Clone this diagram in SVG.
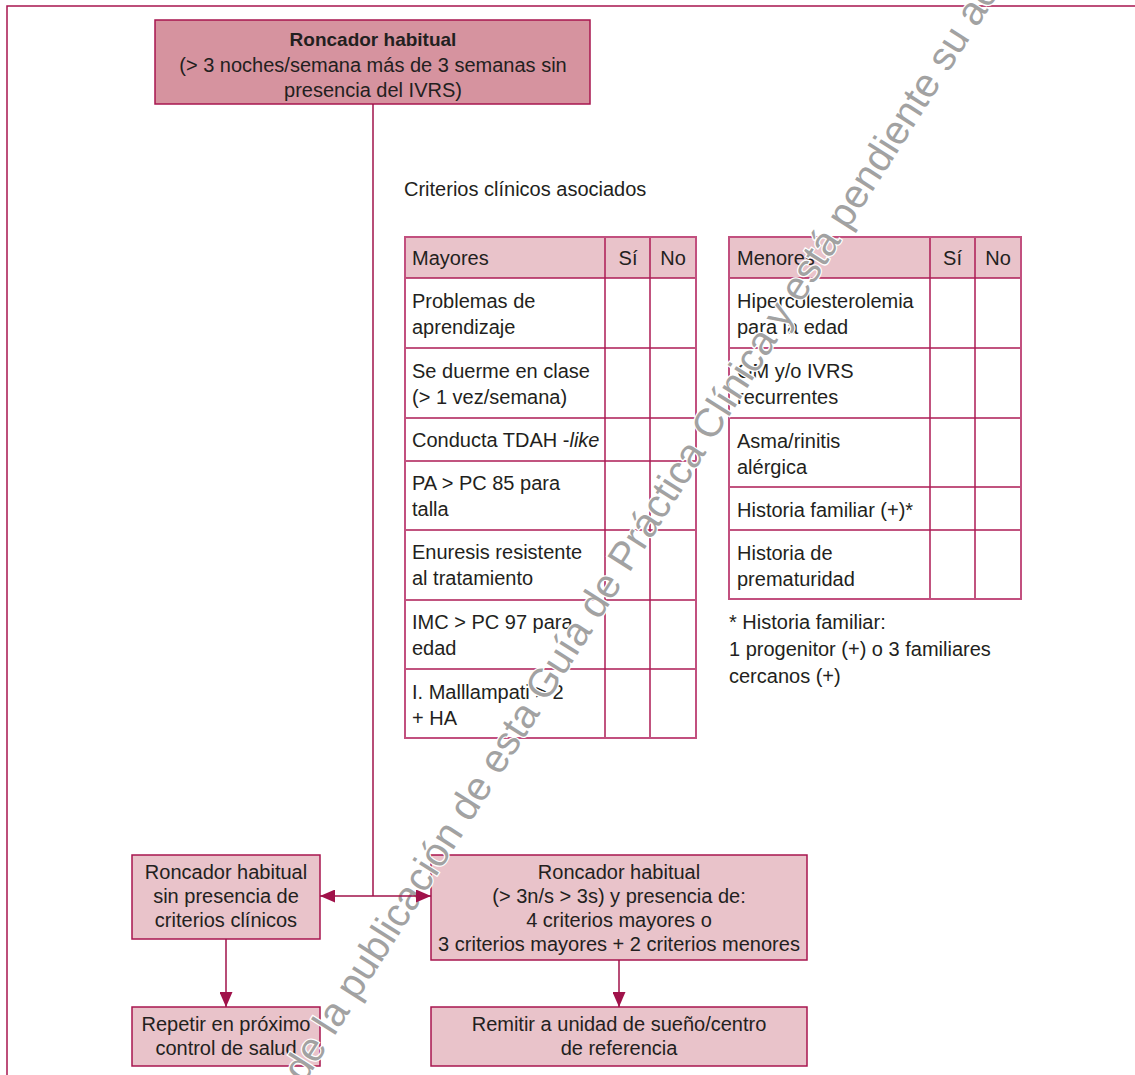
<svg xmlns="http://www.w3.org/2000/svg" width="1135" height="1075" viewBox="0 0 1135 1075">
<style>
text{font-family:"Liberation Sans",Arial,sans-serif;font-size:20px;fill:#231f20}
.c{text-anchor:middle}
.b{font-weight:bold;font-size:19px}
.box{fill:#e9c3ca;stroke:#a8164f;stroke-width:1.5}
.top{fill:#d6939f;stroke:#a8164f;stroke-width:1.5}
.hdr{fill:#e9c3ca;stroke:none}
.grid{stroke:#ad1c55;stroke-width:1.5;fill:none}
.outer{fill:none;stroke:#c2507f;stroke-width:2}
.con{stroke:#a0124a;stroke-width:1.5;fill:none}
.wm{font-size:40px;fill:#a2a2a2;stroke:#fff;stroke-width:2.5;paint-order:stroke}
</style>
<defs>
<marker id="ah" viewBox="0 0 15 13" refX="15" refY="6.5" markerWidth="15" markerHeight="13" markerUnits="userSpaceOnUse" orient="auto">
<path d="M0,0 L15,6.5 L0,13 z" fill="#a0124a"/>
</marker>
</defs>
<rect width="1135" height="1075" fill="#fff"/>
<rect x="7" y="6" width="1200" height="1200" fill="none" stroke="#a8164f" stroke-width="1.5"/>

<g id="n_top">
<rect class="top" x="155" y="20" width="435" height="84"/>
<text class="c b" x="373" y="46">Roncador habitual</text>
<text class="c" x="373" y="71.5">(&gt; 3 noches/semana más de 3 semanas sin</text>
<text class="c" x="373" y="97">presencia del IVRS)</text>
</g>

<g id="n_criterios_title">
<text x="404" y="196">Criterios clínicos asociados</text>
</g>

<g id="n_mayores">
<rect class="hdr" x="405" y="237" width="291" height="41"/>
<path class="grid" d="M405,278 H696 M405,348 H696 M405,418 H696 M405,461 H696 M405,530 H696 M405,600 H696 M405,669 H696 M605,237 V738 M650,237 V738"/>
<rect class="outer" x="405" y="237" width="291" height="501"/>
<text x="412" y="265">Mayores</text>
<text class="c" x="628" y="265">Sí</text>
<text class="c" x="673" y="265">No</text>
<text x="412" y="308">Problemas de</text>
<text x="412" y="334">aprendizaje</text>
<text x="412" y="378">Se duerme en clase</text>
<text x="412" y="404">(&gt; 1 vez/semana)</text>
<text x="412" y="447">Conducta TDAH -<tspan font-style="italic">like</tspan></text>
<text x="412" y="490">PA &gt; PC 85 para</text>
<text x="412" y="516">talla</text>
<text x="412" y="559">Enuresis resistente</text>
<text x="412" y="585">al tratamiento</text>
<text x="412" y="629">IMC &gt; PC 97 para</text>
<text x="412" y="655">edad</text>
<text x="412" y="699">I. Malllampati &gt; 2</text>
<text x="412" y="725">+ HA</text>
</g>

<g id="n_menores">
<rect class="hdr" x="729" y="237" width="292" height="41"/>
<path class="grid" d="M729,278 H1021 M729,348 H1021 M729,418 H1021 M729,487 H1021 M729,530 H1021 M930,237 V599 M975,237 V599"/>
<rect class="outer" x="729" y="237" width="292" height="362"/>
<text x="737" y="265">Menores</text>
<text class="c" x="952.5" y="265">Sí</text>
<text class="c" x="998" y="265">No</text>
<text x="737" y="308">Hipercolesterolemia</text>
<text x="737" y="334">para la edad</text>
<text x="737" y="378">OM y/o IVRS</text>
<text x="737" y="404">recurrentes</text>
<text x="737" y="448">Asma/rinitis</text>
<text x="737" y="474">alérgica</text>
<text x="737" y="517">Historia familiar (+)*</text>
<text x="737" y="560">Historia de</text>
<text x="737" y="586">prematuridad</text>
</g>

<g id="n_nota">
<text x="729" y="629">* Historia familiar:</text>
<text x="729" y="656">1 progenitor (+) o 3 familiares</text>
<text x="729" y="683">cercanos (+)</text>
</g>

<g id="n_sin">
<rect class="box" x="132" y="855" width="188" height="84"/>
<text class="c" x="226" y="879">Roncador habitual</text>
<text class="c" x="226" y="903">sin presencia de</text>
<text class="c" x="226" y="927">criterios clínicos</text>
</g>

<g id="n_con">
<rect class="box" x="431" y="855" width="376" height="105"/>
<text class="c" x="619" y="879">Roncador habitual</text>
<text class="c" x="619" y="903">(&gt; 3n/s &gt; 3s) y presencia de:</text>
<text class="c" x="619" y="927">4 criterios mayores o</text>
<text class="c" x="619" y="951">3 criterios mayores + 2 criterios menores</text>
</g>

<g id="n_repetir">
<rect class="box" x="132" y="1007" width="188" height="59"/>
<text class="c" x="226" y="1031">Repetir en próximo</text>
<text class="c" x="226" y="1055">control de salud</text>
</g>

<g id="n_remitir">
<rect class="box" x="431" y="1007" width="376" height="59"/>
<text class="c" x="619" y="1031">Remitir a unidad de sueño/centro</text>
<text class="c" x="619" y="1055">de referencia</text>
</g>

<text class="wm" transform="translate(304,1084) rotate(-57.5)">de la publicación de esta Guía de Práctica Clínica y está pendiente su ac</text>

<g id="connectors">
<path class="con" d="M373,104 V896"/>
<path class="con" d="M373,896 H320" marker-end="url(#ah)"/>
<path class="con" d="M373,896 H431" marker-end="url(#ah)"/>
<path class="con" d="M226,939 V1007" marker-end="url(#ah)"/>
<path class="con" d="M619,960 V1007" marker-end="url(#ah)"/>
</g>
</svg>
